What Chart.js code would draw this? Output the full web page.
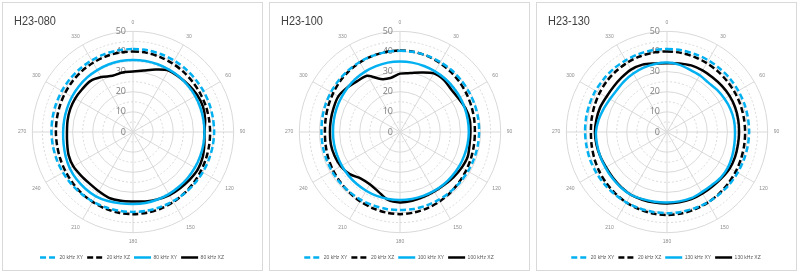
<!DOCTYPE html>
<html>
<head>
<meta charset="utf-8">
<script src="https://cdn.jsdelivr.net/npm/chart.js@4.4.1/dist/chart.umd.min.js"></script>
<style>
  body { margin: 0; background: #fff; width: 800px; height: 273px; position: relative; overflow: hidden; font-family: "Open Sans", sans-serif; }
  .panel { position: absolute; top: 2px; width: 261px; height: 269px; border: 1px solid #d9d9d9; box-sizing: border-box; }
  .panel canvas { position: absolute; left: 0; top: 0; }
  .title { position: absolute; left: 11px; top: 10px; font-size: 13px; color: #404040; font-family: "Liberation Sans", sans-serif; transform: scaleX(0.84); transform-origin: left top; }
</style>
</head>
<body>
<div class="panel" style="left:2px"><canvas id="c1" width="259" height="267"></canvas><div class="title" id="t1"></div></div>
<div class="panel" style="left:269px"><canvas id="c2" width="259" height="267"></canvas><div class="title" id="t2"></div></div>
<div class="panel" style="left:536px"><canvas id="c3" width="259" height="267"></canvas><div class="title" id="t3"></div></div>
<script>
// angle categories (degrees), one every 10
const angleLabels = ['0','10','20','30','40','50','60','70','80','90','100','110','120','130','140','150','160','170',
  '180','190','200','210','220','230','240','250','260','270','280','290','300','310','320','330','340','350'];
const radialTicks = [0, 10, 20, 30, 40, 50];

const panelTitles = ['H23-080', 'H23-100', 'H23-130'];
const names080 = ['20 kHz XY', '20 kHz XZ', '80 kHz XY', '80 kHz XZ'];
const names100 = ['20 kHz XY', '20 kHz XZ', '100 kHz XY', '100 kHz XZ'];
const names130 = ['20 kHz XY', '20 kHz XZ', '130 kHz XY', '130 kHz XZ'];

// H23-080
const h080_20xy = [41.2,41.2,41.1,41,40.8,40.6,40.5,40.4,40.3,40.3,40.2,40.1,40,39.9,39.8,39.7,39.7,39.7,39.7,39.7,39.8,39.9,40,40.1,40.2,40.3,40.4,40.5,40.6,40.7,40.8,40.9,41,41.1,41.2,41.2];
const h080_20xz = [40,39.9,39.6,39.3,39,38.7,38.5,38.4,38.3,38.3,38.4,38.6,38.9,39.3,39.7,40.1,40.5,40.7,40.8,40.7,40.5,40.1,39.7,39.2,38.8,38.5,38.3,38.3,38.4,38.6,38.9,39.2,39.5,39.7,39.9,40];
const h080_80xy = [35.8,35.8,35.8,35.8,35.8,35.7,35.7,35.6,35.5,35.5,35.5,35.5,35.5,35.5,35.5,35.6,35.7,35.8,35.8,36,36.5,36.9,36.8,36.6,36.2,35.6,35,34.7,34.7,34.8,35,35.2,35.4,35.5,35.7,35.8];
const h080_80xz = [30,31,33,35.3,35.6,36.2,36.8,37,36.4,35.5,36,36.8,37.2,36.8,36.4,36.2,35.6,35,34.5,34.7,34.8,34,33.5,33.7,34.2,34,33.2,32.8,33,33.2,33.2,33,33,31.5,29.7,30];

// H23-100
const h100_20xy = [40.3,40.3,40.2,40.1,40,39.8,39.6,39.5,39.4,39.3,39.2,39.1,39,38.9,38.8,38.8,38.8,38.8,38.8,38.8,38.8,38.9,38.9,39,39,39,39,39,39.2,39.4,39.6,39.8,40,40.1,40.2,40.3];
const h100_20xz = [40.5,40.4,40.1,39.6,39.1,38.6,38.1,37.7,37.4,37.2,37.3,37.6,38,38.5,39.1,39.7,40.2,40.6,40.8,40.6,40.2,39.7,39.2,38.7,38.3,37.9,37.5,37.3,37.5,37.9,38.4,39,39.5,39.9,40.2,40.4];
const h100_100xy = [35,35,34.9,34.8,34.7,34.5,34.4,34.3,34.2,34.2,34.1,34,34,33.9,33.9,33.8,33.8,33.8,33.8,33.8,33.8,33.7,33.6,33.5,33.4,33.3,33.3,33.3,33.4,33.6,33.8,34.1,34.4,34.6,34.8,35];
const h100_100xz = [29,29.7,31.5,33.6,33.8,33.1,33.5,34.6,35.2,35,35.1,35.8,35.4,34.8,34.2,34.1,34.3,34.7,35,34.3,31.5,30,30.2,32.6,34,34.6,34.9,34.8,34.9,35.1,35.4,34.3,33,32.2,28,27.2];

// H23-130
const h130_20xy = [41.2,41.2,41.1,41.1,41,41,40.9,40.9,40.8,40.8,40.7,40.6,40.5,40.5,40.4,40.4,40.3,40.3,40.3,40.3,40.3,40.4,40.4,40.5,40.5,40.6,40.6,40.7,40.8,40.9,41,41,41.1,41.1,41.2,41.2];
const h130_20xz = [40,39.9,39.7,39.5,39.3,39.1,39,38.9,38.8,38.8,38.9,39.1,39.4,39.7,40.1,40.5,40.8,41.1,41.2,41.1,40.8,40.4,39.9,39.4,38.9,38.4,38,37.8,38,38.3,38.7,39.1,39.4,39.7,39.9,40];
const h130_130xy = [34.5,34,33,32.5,32,32.5,33,33.5,33.8,33.8,34,34.5,35,35,34.5,34.5,35,35,35,35.2,35.5,36,35.8,35.5,35.3,35.3,35.3,35.3,34.5,33.5,32.7,32.5,33,33.5,34,34.3];
const h130_130xz = [34.2,34.6,35.2,35.3,35.3,35.6,35.9,36,35.9,35.8,35.8,36,36,35.5,35.2,35.3,35.5,35.5,35.5,35.6,35.8,36,35.6,35.2,35,35.3,35.6,35.8,35.6,35.4,34.8,34.8,35.2,35.8,35.6,34.6];

const BLUE = '#00b0f0';
const BLACK = '#000000';

// radial tick labels sit left of the vertical spoke, like the original
const tickLabelPlugin = {
  id: 'tickLabels',
  beforeDatasetsDraw(chart) {
    const r = chart.scales.r;
    const ctx = chart.ctx;
    ctx.save();
    ctx.font = '9px "Open Sans"';
    ctx.fillStyle = '#7f7f7f';
    ctx.textAlign = 'right';
    ctx.textBaseline = 'middle';
    radialTicks.forEach(function (v) {
      ctx.fillText(String(v), r.xCenter - 7, r.yCenter - r.getDistanceFromCenterForValue(v));
    });
    ctx.restore();
  }
};

function makeChart(canvasId, titleId, title, names, series) {
  document.getElementById(titleId).textContent = title;
  const looks = [
    { color: BLUE, dash: [6, 3] },
    { color: BLACK, dash: [6, 3] },
    { color: BLUE, dash: [] },
    { color: BLACK, dash: [] }
  ];
  new Chart(document.getElementById(canvasId), {
    type: 'radar',
    data: {
      labels: angleLabels,
      datasets: series.map(function (values, i) {
        return {
          label: names[i],
          data: values,
          borderColor: looks[i].color,
          backgroundColor: looks[i].color,
          borderDash: looks[i].dash,
          borderWidth: 2.5,
          fill: false,
          pointRadius: 0,
          tension: 0.3
        };
      })
    },
    options: {
      responsive: false,
      animation: false,
      layout: { padding: { left: 14, right: 15, top: 10, bottom: 0 } },
      plugins: {
        legend: {
          position: 'bottom',
          labels: {
            usePointStyle: true,
            pointStyle: 'line',
            pointStyleWidth: 17,
            boxHeight: 5,
            padding: 4,
            color: '#595959',
            font: { size: 5 },
            generateLabels: function (chart) {
              const items = Chart.defaults.plugins.legend.labels.generateLabels(chart);
              items.forEach(function (it) {
                const ds = chart.data.datasets[it.datasetIndex];
                it.lineDash = ds.borderDash;
                it.lineWidth = 2.5;
                it.strokeStyle = ds.borderColor;
              });
              return items;
            }
          }
        },
        tooltip: { enabled: false }
      },
      scales: {
        r: {
          min: 0,
          max: 50,
          ticks: { stepSize: 5, display: false },
          grid: { circular: true, color: '#d9d9d9', lineWidth: 1 },
          border: { dash: function (c) { return c.tick && c.tick.value % 10 ? [2, 2] : []; } },
          angleLines: {
            color: '#d9d9d9',
            lineWidth: function (c) { return c.index % 3 === 0 ? 1 : 0; }
          },
          pointLabels: {
            padding: 6,
            color: '#8c8c8c',
            font: { size: 5 },
            callback: function (label, i) { return i % 3 === 0 ? label : ''; }
          }
        }
      }
    },
    plugins: [tickLabelPlugin]
  });
}

makeChart('c1', 't1', panelTitles[0], names080, [h080_20xy, h080_20xz, h080_80xy, h080_80xz]);
makeChart('c2', 't2', panelTitles[1], names100, [h100_20xy, h100_20xz, h100_100xy, h100_100xz]);
makeChart('c3', 't3', panelTitles[2], names130, [h130_20xy, h130_20xz, h130_130xy, h130_130xz]);
</script>
</body>
</html>
